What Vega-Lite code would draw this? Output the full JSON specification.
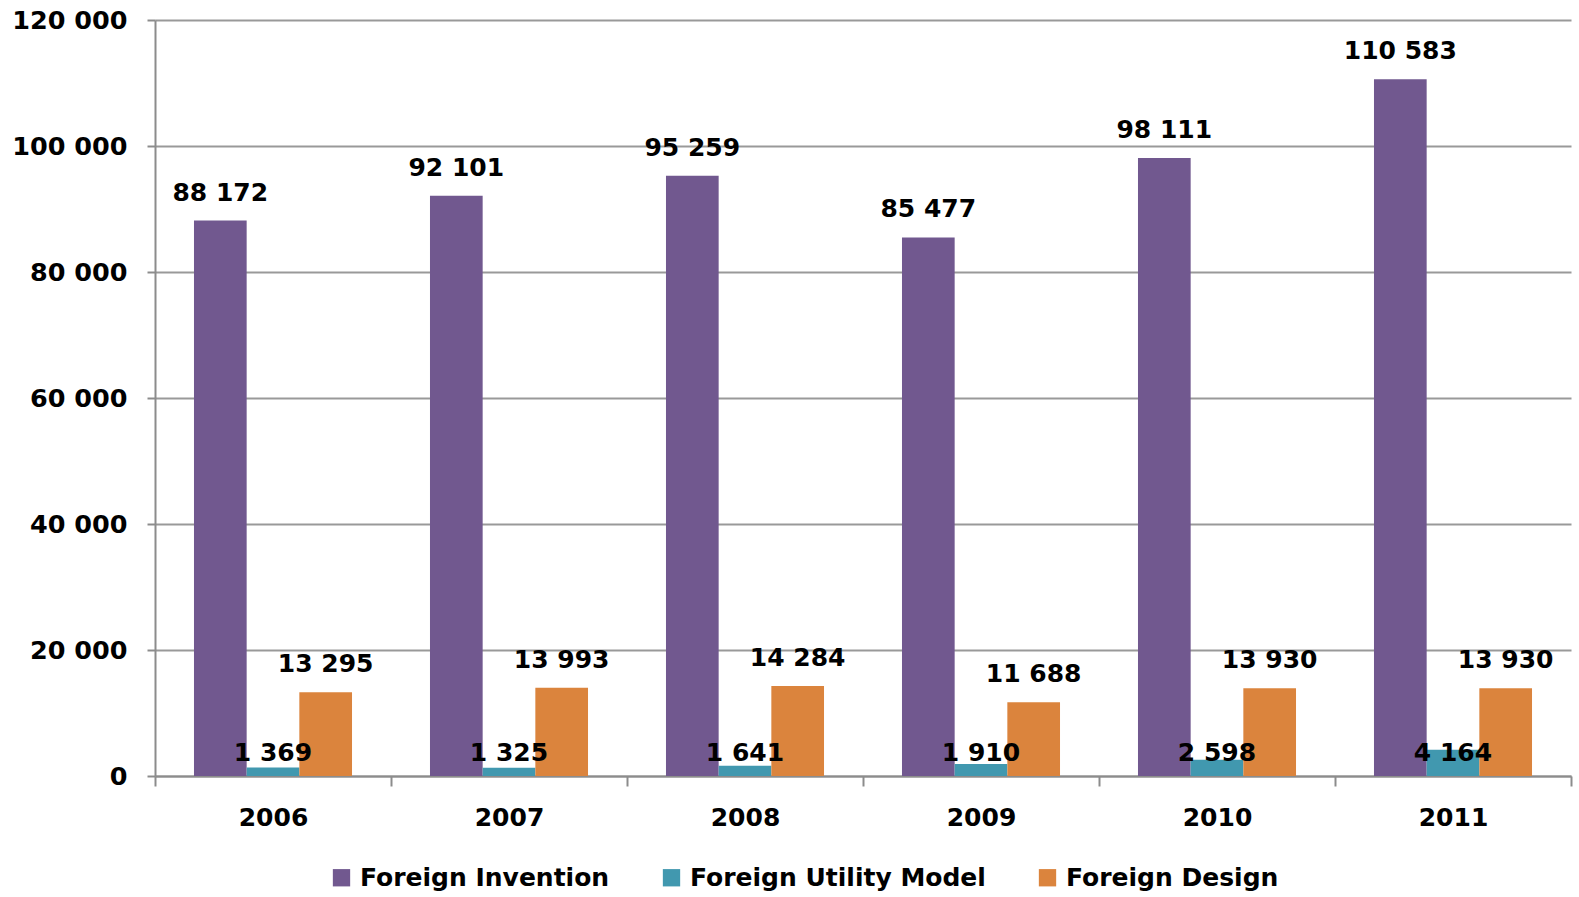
{
  "$schema": "https://vega.github.io/schema/vega-lite/v6.json",
  "width": 1416,
  "height": 756,
  "autosize": {"type": "none"},
  "padding": {"left": 155, "top": 20, "right": 8, "bottom": 121},
  "background": "white",
  "config": {
    "locale": {"number": {"decimal": ".", "thousands": " ", "grouping": [3], "currency": ["$", ""]}},
    "view": {"stroke": null},
    "font": "DejaVu Sans"
  },
  "data": {
    "values": [
      {"year": "2006", "series": "Foreign Invention", "value": 88172},
      {"year": "2007", "series": "Foreign Invention", "value": 92101},
      {"year": "2008", "series": "Foreign Invention", "value": 95259},
      {"year": "2009", "series": "Foreign Invention", "value": 85477},
      {"year": "2010", "series": "Foreign Invention", "value": 98111},
      {"year": "2011", "series": "Foreign Invention", "value": 110583},
      {"year": "2006", "series": "Foreign Utility Model", "value": 1369},
      {"year": "2007", "series": "Foreign Utility Model", "value": 1325},
      {"year": "2008", "series": "Foreign Utility Model", "value": 1641},
      {"year": "2009", "series": "Foreign Utility Model", "value": 1910},
      {"year": "2010", "series": "Foreign Utility Model", "value": 2598},
      {"year": "2011", "series": "Foreign Utility Model", "value": 4164},
      {"year": "2006", "series": "Foreign Design", "value": 13295},
      {"year": "2007", "series": "Foreign Design", "value": 13993},
      {"year": "2008", "series": "Foreign Design", "value": 14284},
      {"year": "2009", "series": "Foreign Design", "value": 11688},
      {"year": "2010", "series": "Foreign Design", "value": 13930},
      {"year": "2011", "series": "Foreign Design", "value": 13930}
    ]
  },
  "encoding": {
    "x": {
      "field": "year",
      "type": "nominal",
      "scale": {"paddingInner": 0, "paddingOuter": 0},
      "axis": {
        "title": null,
        "labelAngle": 0,
        "labelFont": "DejaVu Sans",
        "labelFontSize": 25,
        "labelFontWeight": "bold",
        "labelColor": "black",
        "labelPadding": 19,
        "tickBand": "extent",
        "tickSize": 10,
        "tickColor": "#8c8c8c",
        "tickWidth": 2,
        "domainColor": "#8c8c8c",
        "domainWidth": 2,
        "grid": false
      }
    },
    "xOffset": {
      "field": "series",
      "type": "nominal",
      "scale": {"domain": ["Foreign Invention", "Foreign Utility Model", "Foreign Design"], "paddingInner": 0, "paddingOuter": 0.74}
    }
  },
  "layer": [
    {
      "mark": {"type": "bar"},
      "encoding": {
        "y": {
          "field": "value",
          "type": "quantitative",
          "scale": {"domain": [0, 120000], "nice": false},
          "axis": {
            "title": null,
            "values": [0, 20000, 40000, 60000, 80000, 100000, 120000],
            "format": ",d",
            "labelFont": "DejaVu Sans",
            "labelFontSize": 25.5,
            "labelFontWeight": "bold",
            "labelColor": "black",
            "labelPadding": 20,
            "tickSize": 8,
            "tickColor": "#8c8c8c",
            "tickWidth": 2,
            "domainColor": "#8c8c8c",
            "domainWidth": 2,
            "gridColor": "#999999",
            "gridWidth": 2
          }
        },
        "color": {
          "field": "series",
          "type": "nominal",
          "scale": {
            "domain": ["Foreign Invention", "Foreign Utility Model", "Foreign Design"],
            "range": ["#71588F", "#4198AF", "#DB843D"]
          },
          "legend": {
            "title": null,
            "orient": "none",
            "direction": "horizontal",
            "legendX": 174,
            "legendY": 845,
            "symbolType": "square",
            "symbolSize": 300,
            "symbolStrokeWidth": 0,
            "labelFont": "DejaVu Sans",
            "labelFontSize": 25,
            "labelFontWeight": "bold",
            "labelColor": "black",
            "labelOffset": 6,
            "columnPadding": 49,
            "labelLimit": 400
          }
        }
      }
    },
    {
      "transform": [{"filter": "datum.series !== 'Foreign Utility Model'"}],
      "mark": {"type": "text", "baseline": "alphabetic", "align": "center", "dy": -20, "fontSize": 25, "fontWeight": "bold", "font": "DejaVu Sans", "color": "black"},
      "encoding": {
        "y": {"field": "value", "type": "quantitative"},
        "text": {"field": "value", "type": "quantitative", "format": ","}
      }
    },
    {
      "transform": [{"filter": "datum.series === 'Foreign Utility Model'"}],
      "mark": {"type": "text", "baseline": "alphabetic", "align": "center", "dy": -15, "fontSize": 25, "fontWeight": "bold", "font": "DejaVu Sans", "color": "black"},
      "encoding": {
        "y": {"datum": 0, "type": "quantitative"},
        "text": {"field": "value", "type": "quantitative", "format": ","}
      }
    }
  ]
}
